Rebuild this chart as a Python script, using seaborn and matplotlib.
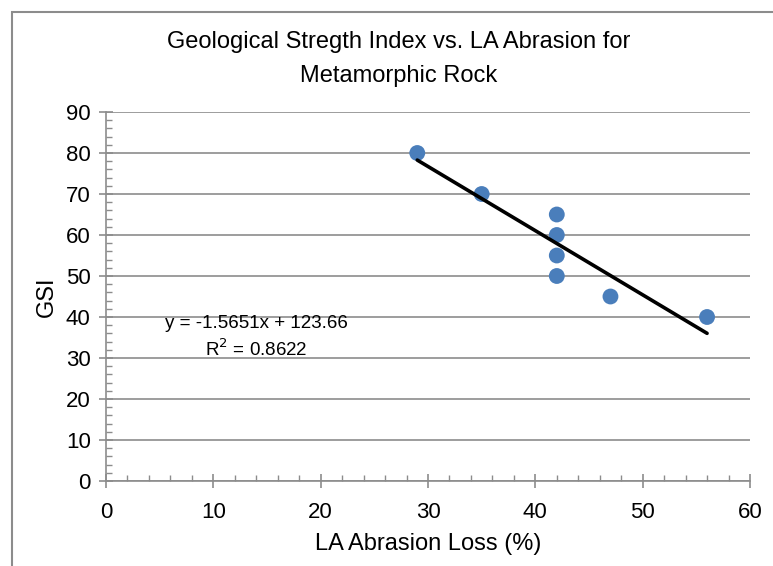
import matplotlib
matplotlib.use('Agg')
import matplotlib.pyplot as plt
import matplotlib.patches as patches
from matplotlib.ticker import MultipleLocator
import seaborn as sns
import pandas as pd

la_abrasion = [29, 35, 42, 42, 42, 42, 47, 56]
gsi = [80, 70, 65, 60, 55, 50, 45, 40]
x_ticks = [0, 10, 20, 30, 40, 50, 60]
y_ticks = [0, 10, 20, 30, 40, 50, 60, 70, 80, 90]

df = pd.DataFrame({'la': la_abrasion, 'gsi': gsi})

sns.set_style('white')
plt.rcParams['font.family'] = ['Liberation Sans', 'DejaVu Sans']
plt.rcParams['text.color'] = 'black'
plt.rcParams['axes.labelcolor'] = 'black'

fig = plt.figure(figsize=(7.73, 5.66), dpi=100)
ax = fig.add_axes([106 / 773, 1 - 481 / 566, 644 / 773, 369 / 566])

# outer chart border (cropped on right and bottom)
fig.patches.append(patches.Rectangle((12 / 773, -0.1), 1.2, 1 - 12 / 566 + 0.1,
                                     transform=fig.transFigure, fill=False,
                                     edgecolor='#8c8c8c', linewidth=1.5))

sns.regplot(data=df, x='la', y='gsi', ax=ax, ci=None,
            scatter_kws={'s': 130, 'color': '#4a7ebb', 'edgecolors': 'none', 'alpha': 1, 'zorder': 3},
            line_kws={'color': 'black', 'linewidth': 2.6, 'zorder': 4})

ax.set_xlim(0, 60)
ax.set_ylim(0, 90)
ax.set_xticks(x_ticks)
ax.set_yticks(y_ticks)
ax.xaxis.set_minor_locator(MultipleLocator(2))
ax.yaxis.set_minor_locator(MultipleLocator(2))
ax.grid(axis='y', which='major', color='#8c8c8c', linewidth=1.2)
ax.set_axisbelow(True)

for side in ['top', 'right']:
    ax.spines[side].set_visible(False)
for side in ['left', 'bottom']:
    ax.spines[side].set_color('#8c8c8c')
    ax.spines[side].set_linewidth(1.2)

ax.tick_params(which='major', direction='inout', length=10, width=1.2, color='#8c8c8c',
               labelsize=16, labelcolor='black')
ax.tick_params(axis='x', which='major', pad=10)
ax.tick_params(axis='y', which='major', pad=6)
ax.tick_params(which='minor', direction='in', length=4, width=1, color='#8c8c8c')
ax.tick_params(axis='y', which='both', left=True)
ax.tick_params(axis='x', which='both', bottom=True)

ax.set_xlabel('LA Abrasion Loss (%)', fontsize=17, labelpad=7)
ax.set_ylabel('GSI', fontsize=17, labelpad=6)

fig.text(399 / 773, 1 - 59 / 566, 'Geological Stregth Index vs. LA Abrasion for\nMetamorphic Rock',
         ha='center', va='center', fontsize=17, linespacing=1.65)

ax.text(14.0, 35.0, 'y = -1.5651x + 123.66\nR$^2$ = 0.8622', ha='center', va='center',
        fontsize=13.5, linespacing=1.35)

fig.savefig('out.png', dpi=100)
plt.close()
